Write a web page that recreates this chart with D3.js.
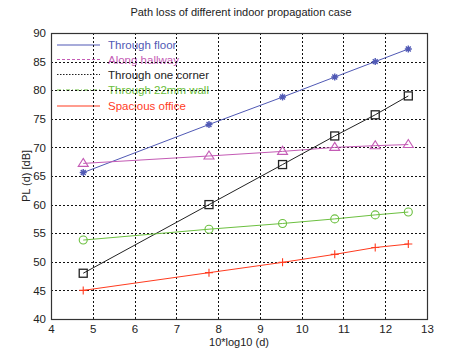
<!DOCTYPE html>
<html><head><meta charset="utf-8">
<script src="https://cdn.jsdelivr.net/npm/d3@7"></script>
<style>body{margin:0;background:#fff;} svg{font-family:"Liberation Sans",Arial,sans-serif;}</style>
</head><body>
<svg id="c" width="450" height="359"></svg>
<script>
const distances = [3, 6, 9, 12, 15, 18];
const xValues = distances.map(d => 10 * Math.log10(d));
const seriesNames = ["Through floor", "Along hallway", "Through one corner", "Through 22mm wall", "Spacious office"];
const floorVals = [65.6, 74.0, 78.8, 82.3, 85.0, 87.2];
const hallwayVals = [67.2, 68.5, 69.3, 70.0, 70.3, 70.5];
const cornerVals = [48.0, 60.0, 67.0, 72.0, 75.7, 79.0];
const wallVals = [53.8, 55.7, 56.7, 57.5, 58.2, 58.7];
const officeVals = [45.0, 48.1, 49.9, 51.3, 52.5, 53.1];
const xTicks = [4, 5, 6, 7, 8, 9, 10, 11, 12, 13];
const yTicks = [40, 45, 50, 55, 60, 65, 70, 75, 80, 85, 90];

const styles = [
  {color: "#5059b5", dash: null, marker: "star"},
  {color: "#c45bb5", dash: "3,2", marker: "tri"},
  {color: "#222222", dash: "1.5,1.5", marker: "square"},
  {color: "#6cc040", dash: "4,2,1,2", marker: "circle"},
  {color: "#ff3b1f", dash: null, marker: "plus"}
];
const allVals = [floorVals, hallwayVals, cornerVals, wallVals, officeVals];

const svg = d3.select("#c");
const L = 51, R = 427, T = 33, B = 319;
const x = d3.scaleLinear().domain([4, 13]).range([L, R]);
const y = d3.scaleLinear().domain([40, 90]).range([B, T]);
const px = v => Math.round(v) + 0.5;

// title
svg.append("text").attr("x", 241).attr("y", 16).attr("text-anchor", "middle")
  .attr("font-size", 11).attr("fill", "#222").text("Path loss of different indoor propagation case");

// legend (drawn first, under grid)
const lg = svg.append("g");
const legY = [45, 59.5, 74.5, 90, 106];
seriesNames.forEach((n, i) => {
  const s = styles[i];
  lg.append("line").attr("x1", 57).attr("x2", 100).attr("y1", legY[i]).attr("y2", legY[i])
    .attr("stroke", s.color).attr("stroke-width", 1.2).attr("stroke-dasharray", s.dash);
  lg.append("text").attr("x", 108).attr("y", legY[i] + 4).attr("font-size", 11.5)
    .attr("fill", s.color).text(n);
});

// grid
const grid = svg.append("g").attr("stroke", "#111").attr("stroke-width", 1).attr("stroke-dasharray", "2,2");
xTicks.slice(1, -1).forEach(t => grid.append("line").attr("x1", px(x(t))).attr("x2", px(x(t))).attr("y1", T).attr("y2", B));
yTicks.slice(1, -1).forEach(t => grid.append("line").attr("x1", L).attr("x2", R).attr("y1", px(y(t))).attr("y2", px(y(t))));

// axes
const xa = svg.append("g").attr("transform", `translate(0,${B})`)
  .call(d3.axisBottom(x).tickValues(xTicks).tickSize(0).tickPadding(6).tickFormat(d3.format("d")));
const ya = svg.append("g").attr("transform", `translate(${L},0)`)
  .call(d3.axisLeft(y).tickValues(yTicks).tickSize(0).tickPadding(5).tickFormat(d3.format("d")));
[xa, ya].forEach(a => {
  a.select(".domain").remove();
  a.selectAll("text").attr("font-size", 11.5).attr("fill", "#222").attr("font-family", "Liberation Sans, Arial, sans-serif");
});
svg.append("rect").attr("x", L + 0.5).attr("y", T + 0.5).attr("width", R - L).attr("height", B - T)
  .attr("fill", "none").attr("stroke", "#333").attr("stroke-width", 1.2);

// axis labels
svg.append("text").attr("x", x(8.5)).attr("y", 346).attr("text-anchor", "middle")
  .attr("font-size", 11).attr("fill", "#222").text("10*log10 (d)");
svg.append("text").attr("transform", `translate(30,${y(65)}) rotate(-90)`).attr("text-anchor", "middle")
  .attr("font-size", 11).attr("fill", "#222").text("PL (d) [dB]");

// series
const line = d3.line().x((d, i) => x(xValues[i])).y(d => y(d));
allVals.forEach((vals, si) => {
  const s = styles[si];
  svg.append("path").datum(vals).attr("d", line).attr("fill", "none")
    .attr("stroke", s.color).attr("stroke-width", 1);
  const g = svg.append("g").attr("stroke", s.color).attr("fill", "none").attr("stroke-width", 1.1);
  vals.forEach((v, i) => {
    const cx = x(xValues[i]), cy = y(v), r = 4;
    if (s.marker === "square") {
      g.append("rect").attr("x", cx - r).attr("y", cy - r).attr("width", 2 * r).attr("height", 2 * r).attr("stroke-width", 1.3);
    } else if (s.marker === "circle") {
      g.append("circle").attr("cx", cx).attr("cy", cy).attr("r", r);
    } else if (s.marker === "tri") {
      g.append("path").attr("d", `M${cx},${cy - r - 1}L${cx + r + 1},${cy + r - 1}L${cx - r - 1},${cy + r - 1}Z`);
    } else if (s.marker === "plus") {
      g.append("path").attr("d", `M${cx - r},${cy}H${cx + r}M${cx},${cy - r}V${cy + r}`);
    } else if (s.marker === "star") {
      const rr = 3.5;
      g.append("path").attr("d", `M${cx - rr},${cy}H${cx + rr}M${cx},${cy - rr}V${cy + rr}M${cx - rr * 0.7},${cy - rr * 0.7}L${cx + rr * 0.7},${cy + rr * 0.7}M${cx - rr * 0.7},${cy + rr * 0.7}L${cx + rr * 0.7},${cy - rr * 0.7}`).attr("stroke-width", 1.4);
    }
  });
});
</script>
</body></html>
